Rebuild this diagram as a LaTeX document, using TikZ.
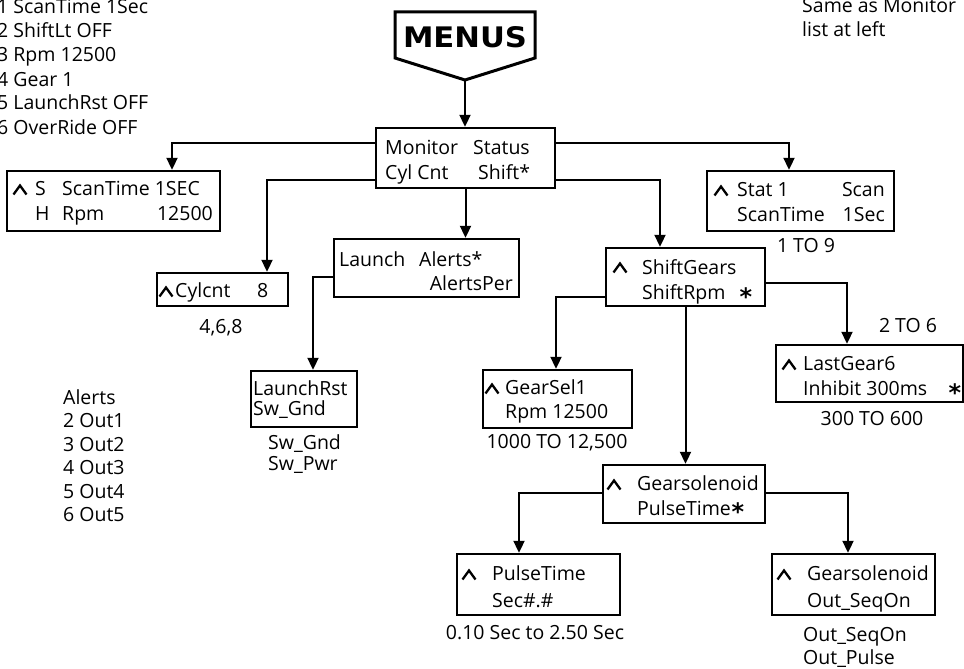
\documentclass[tikz,border=0pt]{standalone}
\usepackage{fontspec}
\setmainfont{Open Sans}
\newfontfamily\dvs{DejaVu Sans}
\usetikzlibrary{arrows.meta}
\newcommand\rbox[5]{\node[box, minimum width={(#4-#2)*1pt}, minimum height={(#5-#3)*1pt}] (#1) at ({(#2+#4)/2},{(#3+#5)/2}) {};}
\begin{document}
\begin{tikzpicture}[x=1pt,y=-1pt,
  font=\fontsize{19.5}{23.5}\selectfont,
  box/.style={draw, line width=2.4pt, inner sep=0pt, rectangle},
  txt/.style={inner sep=0pt, anchor=west, text height=14pt, text depth=0pt},
  rtxt/.style={txt, anchor=east},
  ctxt/.style={txt, anchor=center},
  arr/.style={line width=2pt, -{Triangle[length=12pt,width=11pt]}},
  crt/.pic={\draw[line width=2.3pt, line join=miter] (-6.5,4.5) -- (0,-4.5) -- (6.5,4.5);},
  bigstar/.style={inner sep=0pt, anchor=center, font=\dvs\bfseries\fontsize{24}{24}\selectfont}]
\useasboundingbox (0,0) rectangle (964,669);

% MENUS pentagon
\draw[line width=3pt, line join=miter] (395,12) -- (535,12) -- (535,58) -- (465,80) -- (395,58) -- cycle;
\coordinate (mtip) at (465,80);
\node[inner sep=0pt] (menus) at (465,37.5) {\resizebox{124pt}{21pt}{\dvs\bfseries MENUS}};

% boxes
\rbox{monitor}{376}{128}{555}{188}
\rbox{scan}{7}{171}{220}{231}
\rbox{cyl}{157}{273}{288}{306}
\rbox{launch}{334}{239}{519}{297}
\rbox{lrst}{251}{371}{357}{427}
\rbox{stat}{707}{171}{894}{231}
\rbox{shiftg}{606}{248}{765}{306}
\rbox{last}{776}{345}{963}{402}
\rbox{gearsel}{483}{370}{632}{428}
\rbox{gsol}{603}{465}{765}{523}
\rbox{pulse}{457}{554}{620}{615}
\rbox{gsolb}{772}{554}{935}{615}

% connectors
\draw[arr] (mtip) -- (mtip |- monitor.north);
\draw[arr] ([yshift=15pt]monitor.west) -| ([xshift=58.5pt]scan.north);
\draw[arr] ([yshift=-22pt]monitor.west) -| ([xshift=44.5pt]cyl.north);
\draw[arr] (monitor.south) -- (monitor.south |- launch.north);
\draw[arr] ([yshift=-9pt]launch.west) -| ([xshift=9pt]lrst.north);
\draw[arr] ([yshift=15pt]monitor.east) -| ([xshift=-11.5pt]stat.north);
\draw[arr] ([yshift=-22pt]monitor.east) -| ([xshift=-25.5pt]shiftg.north);
\draw[arr] ([yshift=-6pt]shiftg.east) -| ([xshift=-22.5pt]last.north);
\draw[arr] ([yshift=-20pt]shiftg.west) -| ([xshift=-1.5pt]gearsel.north);
\draw[arr] (shiftg.south) -- (shiftg.south |- gsol.north);
\draw[arr] ([yshift=1pt]gsol.west) -| ([xshift=-19.5pt]pulse.north);
\draw[arr] ([yshift=1pt]gsol.east) -| ([xshift=-5.5pt]gsolb.north);

% monitor box text
\node[txt] (m1) at (385,147) {Monitor};
\node[txt] (m2) at (473,147) {Status};
\node[txt] (m3) at (385,172) {Cyl Cnt};
\node[txt] (m4) at (478,172) {Shift*};

% scan box
\pic at (20,190) {crt};
\node[txt] (s1) at (35,188) {S};
\node[txt] (s2) at (62,188) {ScanTime 1SEC};
\node[txt] (s3) at (35,213) {H};
\node[txt] (s4) at (62,213) {Rpm};
\node[rtxt] (s5) at (213,213) {12500};

% cyl box
\pic at (166,292) {crt};
\node[txt] (y1) at (175,290) {Cylcnt};
\node[txt] (y2) at (257,290) {8};
\node[ctxt] (y3) at (221,326) {4,6,8};

% launch box
\node[txt] (l1) at (339,259) {Launch};
\node[txt] (l2) at (419,259) {Alerts*};
\node[rtxt] (l3) at (513,283) {AlertsPer};

% launchrst box
\node[txt] (r1) at (253,388) {LaunchRst};
\node[txt] (r2) at (253,408) {Sw\_Gnd};
\node[txt] (r3) at (268,442) {Sw\_Gnd};
\node[txt] (r4) at (268,463) {Sw\_Pwr};

% stat box
\pic at (721,191) {crt};
\node[txt] (t1) at (737,189) {Stat 1};
\node[rtxt] (t2) at (885,189) {Scan};
\node[txt] (t3) at (737,214) {ScanTime};
\node[rtxt] (t4) at (885,214) {1Sec};
\node[ctxt] (t5) at (806,245) {1 TO 9};

% shiftgears box
\pic at (620,268) {crt};
\node[txt] (g1) at (642,267) {ShiftGears};
\node[txt] (g2) at (642,292) {ShiftRpm};
\node[bigstar] (g3) at (746,297) {*};

% lastgear box
\node[ctxt] (a0) at (908,325) {2 TO 6};
\pic at (789,365) {crt};
\node[txt] (a1) at (803,363) {LastGear6};
\node[txt] (a2) at (803,388) {Inhibit 300ms};
\node[bigstar] (a3) at (955,393) {*};
\node[ctxt] (a4) at (872,418) {300 TO 600};

% gearsel box
\pic at (492,389) {crt};
\node[txt] (e1) at (505,387) {GearSel1};
\node[txt] (e2) at (505,411) {Rpm 12500};
\node[ctxt] (e3) at (557,441) {1000 TO 12,500};

% gearsolenoid box
\pic at (614,485) {crt};
\node[txt] (o1) at (637,483) {Gearsolenoid};
\node[txt] (o2) at (637,508) {PulseTime};
\node[bigstar] (o3) at (738,512) {*};

% pulse box
\pic at (469,575) {crt};
\node[txt] (p1) at (492,573) {PulseTime};
\node[txt] (p2) at (492,600) {Sec\#.\#};
\node[ctxt] (p3) at (535,632) {0.10 Sec to 2.50 Sec};

% gearsolenoid 2 box
\pic at (784,575) {crt};
\node[txt] (q1) at (807,573) {Gearsolenoid};
\node[txt] (q2) at (807,600) {Out\_SeqOn};
\node[txt] (q3) at (803,634) {Out\_SeqOn};
\node[txt] (q4) at (803,657) {Out\_Pulse};

% alerts list
\node[txt] (al0) at (63,397) {Alerts};
\node[txt] (al1) at (63,420.5) {2 Out1};
\node[txt] (al2) at (63,444) {3 Out2};
\node[txt] (al3) at (63,467.5) {4 Out3};
\node[txt] (al4) at (63,491) {5 Out4};
\node[txt] (al5) at (63,514.5) {6 Out5};

% top-left list
\node[txt] (tl1) at (-3,7) {1 ScanTime 1Sec};
\node[txt] (tl2) at (-3,31) {2 ShiftLt OFF};
\node[txt] (tl3) at (-3,55) {3 Rpm 12500};
\node[txt] (tl4) at (-3,79) {4 Gear 1};
\node[txt] (tl5) at (-3,103) {5 LaunchRst OFF};
\node[txt] (tl6) at (-3,127) {6 OverRide OFF};

% top-right note
\node[txt] (tr1) at (802,6) {Same as Monitor};
\node[txt] (tr2) at (802,30) {list at left};
\end{tikzpicture}
\end{document}
